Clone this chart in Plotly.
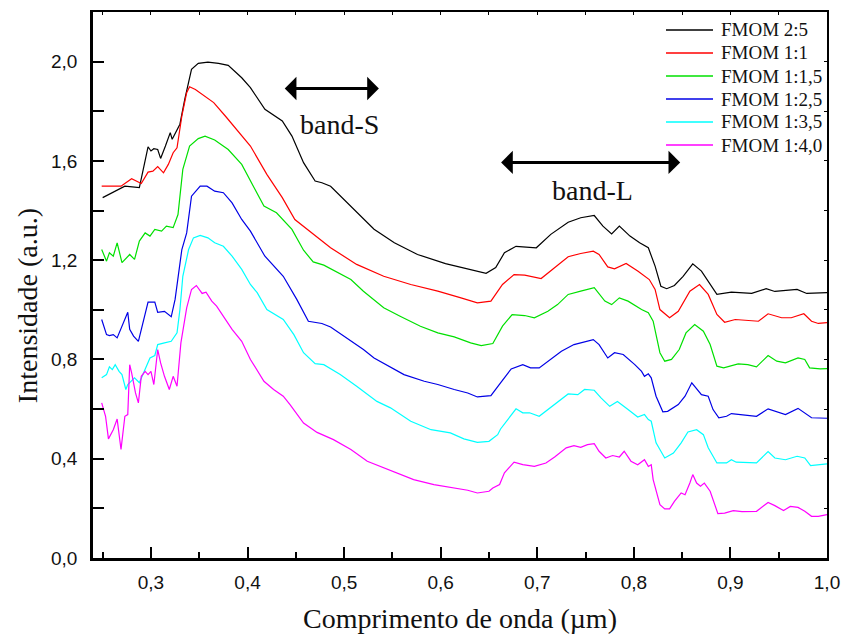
import plotly.graph_objects as go

# Reflectance spectra of FMOM samples (wavelength in micrometres, intensity in a.u.)
wl_2_5 = [0.250, 0.273, 0.288, 0.297, 0.300, 0.303, 0.307, 0.310, 0.315, 0.320,
          0.322, 0.327, 0.330, 0.335, 0.342, 0.349, 0.359, 0.370, 0.380, 0.394,
          0.403, 0.418, 0.436, 0.446, 0.458, 0.470, 0.477, 0.486, 0.507, 0.531,
          0.552, 0.576, 0.605, 0.628, 0.647, 0.657, 0.666, 0.678, 0.690, 0.699,
          0.714, 0.732, 0.745, 0.759, 0.768, 0.777, 0.785, 0.796, 0.806, 0.815,
          0.822, 0.828, 0.834, 0.842, 0.851, 0.861, 0.870, 0.879, 0.886, 0.901,
          0.922, 0.937, 0.946, 0.969, 0.979, 1.000]
int_2_5 = [1.452, 1.498, 1.492, 1.657, 1.640, 1.649, 1.646, 1.610, 1.660, 1.714,
           1.687, 1.728, 1.748, 1.848, 1.969, 1.993, 1.998, 1.993, 1.985, 1.935,
           1.895, 1.808, 1.761, 1.700, 1.593, 1.519, 1.512, 1.498, 1.418, 1.325,
           1.270, 1.223, 1.186, 1.165, 1.147, 1.170, 1.230, 1.256, 1.254, 1.250,
           1.304, 1.353, 1.371, 1.380, 1.337, 1.306, 1.337, 1.297, 1.270, 1.250,
           1.176, 1.095, 1.085, 1.098, 1.135, 1.185, 1.156, 1.102, 1.062, 1.071,
           1.066, 1.085, 1.074, 1.082, 1.066, 1.069]

wl_1_1 = [0.249, 0.269, 0.280, 0.290, 0.297, 0.302, 0.307, 0.313, 0.318, 0.323,
          0.327, 0.332, 0.337, 0.340, 0.346, 0.353, 0.365, 0.377, 0.394, 0.403,
          0.420, 0.436, 0.449, 0.467, 0.486, 0.513, 0.541, 0.569, 0.597, 0.621,
          0.638, 0.652, 0.664, 0.676, 0.687, 0.704, 0.716, 0.732, 0.745, 0.758,
          0.764, 0.773, 0.780, 0.792, 0.804, 0.816, 0.822, 0.827, 0.837, 0.846,
          0.858, 0.868, 0.877, 0.886, 0.894, 0.905, 0.929, 0.939, 0.953, 0.963,
          0.976, 0.984, 0.991, 1.000]
int_1_1 = [1.498, 1.498, 1.528, 1.509, 1.555, 1.559, 1.577, 1.552, 1.586, 1.633,
           1.653, 1.781, 1.875, 1.899, 1.888, 1.868, 1.835, 1.781, 1.700, 1.660,
           1.546, 1.452, 1.364, 1.310, 1.250, 1.183, 1.135, 1.102, 1.075, 1.048,
           1.028, 1.035, 1.102, 1.142, 1.140, 1.126, 1.163, 1.214, 1.227, 1.236,
           1.223, 1.173, 1.165, 1.187, 1.156, 1.122, 1.082, 1.001, 0.968, 0.994,
           1.075, 1.102, 1.062, 0.981, 0.950, 0.961, 0.954, 0.984, 0.968, 0.968,
           0.984, 0.954, 0.945, 0.948]

wl_1_15 = [0.249, 0.254, 0.257, 0.261, 0.265, 0.270, 0.278, 0.283, 0.288, 0.294,
           0.299, 0.304, 0.311, 0.316, 0.323, 0.328, 0.333, 0.340, 0.349, 0.356,
           0.366, 0.380, 0.394, 0.403, 0.417, 0.430, 0.446, 0.458, 0.468, 0.479,
           0.493, 0.507, 0.520, 0.541, 0.558, 0.579, 0.597, 0.614, 0.631, 0.642,
           0.654, 0.664, 0.674, 0.687, 0.697, 0.711, 0.721, 0.732, 0.745, 0.759,
           0.770, 0.777, 0.785, 0.794, 0.808, 0.815, 0.820, 0.827, 0.832, 0.839,
           0.847, 0.854, 0.863, 0.872, 0.879, 0.886, 0.893, 0.908, 0.918, 0.927,
           0.939, 0.948, 0.957, 0.970, 0.977, 0.982, 0.993, 1.000]
int_1_15 = [1.243, 1.196, 1.230, 1.216, 1.270, 1.190, 1.223, 1.203, 1.277, 1.310,
            1.297, 1.324, 1.317, 1.337, 1.331, 1.384, 1.566, 1.660, 1.690, 1.700,
            1.684, 1.646, 1.586, 1.519, 1.418, 1.391, 1.324, 1.240, 1.193, 1.180,
            1.150, 1.122, 1.075, 1.008, 0.974, 0.934, 0.907, 0.891, 0.867, 0.856,
            0.864, 0.934, 0.981, 0.977, 0.968, 0.994, 1.021, 1.062, 1.075, 1.089,
            1.035, 1.021, 1.048, 1.035, 1.001, 0.988, 0.954, 0.827, 0.793, 0.800,
            0.840, 0.907, 0.941, 0.914, 0.860, 0.773, 0.766, 0.782, 0.779, 0.770,
            0.816, 0.793, 0.786, 0.806, 0.800, 0.766, 0.762, 0.763]

wl_1_25 = [0.249, 0.254, 0.257, 0.261, 0.265, 0.271, 0.276, 0.278, 0.282, 0.287,
           0.292, 0.297, 0.304, 0.307, 0.314, 0.321, 0.325, 0.328, 0.332, 0.337,
           0.342, 0.351, 0.358, 0.366, 0.375, 0.384, 0.394, 0.403, 0.418, 0.437,
           0.451, 0.463, 0.477, 0.486, 0.500, 0.520, 0.531, 0.548, 0.562, 0.583,
           0.597, 0.614, 0.628, 0.638, 0.652, 0.662, 0.673, 0.685, 0.693, 0.702,
           0.711, 0.725, 0.738, 0.749, 0.758, 0.764, 0.773, 0.780, 0.789, 0.801,
           0.808, 0.811, 0.815, 0.818, 0.823, 0.830, 0.835, 0.846, 0.853, 0.860,
           0.867, 0.870, 0.877, 0.882, 0.888, 0.896, 0.901, 0.912, 0.927, 0.939,
           0.950, 0.957, 0.970, 0.977, 0.984, 1.000]
int_1_25 = [0.961, 0.900, 0.896, 0.900, 0.887, 0.941, 0.990, 0.921, 0.894, 0.873,
            0.954, 1.031, 1.031, 0.990, 0.994, 0.972, 1.042, 1.122, 1.243, 1.310,
            1.458, 1.498, 1.498, 1.478, 1.472, 1.431, 1.364, 1.317, 1.216, 1.135,
            1.042, 0.954, 0.945, 0.931, 0.894, 0.840, 0.806, 0.770, 0.739, 0.712,
            0.699, 0.679, 0.665, 0.649, 0.654, 0.706, 0.762, 0.779, 0.766, 0.766,
            0.793, 0.833, 0.860, 0.871, 0.880, 0.860, 0.806, 0.827, 0.820, 0.779,
            0.752, 0.732, 0.742, 0.726, 0.652, 0.589, 0.591, 0.618, 0.652, 0.706,
            0.672, 0.658, 0.652, 0.598, 0.565, 0.571, 0.582, 0.578, 0.571, 0.601,
            0.585, 0.578, 0.603, 0.585, 0.565, 0.563]

wl_1_35 = [0.249, 0.254, 0.257, 0.260, 0.263, 0.267, 0.270, 0.274, 0.276, 0.283,
           0.288, 0.294, 0.299, 0.304, 0.307, 0.314, 0.321, 0.327, 0.330, 0.333,
           0.339, 0.344, 0.351, 0.359, 0.366, 0.375, 0.384, 0.394, 0.403, 0.410,
           0.420, 0.437, 0.448, 0.458, 0.470, 0.479, 0.496, 0.513, 0.534, 0.548,
           0.569, 0.590, 0.610, 0.624, 0.638, 0.650, 0.659, 0.662, 0.671, 0.678,
           0.685, 0.692, 0.702, 0.711, 0.721, 0.732, 0.742, 0.749, 0.759, 0.766,
           0.775, 0.783, 0.794, 0.804, 0.811, 0.815, 0.818, 0.823, 0.832, 0.841,
           0.849, 0.856, 0.865, 0.872, 0.877, 0.886, 0.896, 0.901, 0.906, 0.927,
           0.939, 0.946, 0.957, 0.969, 0.977, 0.983, 1.000]
int_1_35 = [0.726, 0.739, 0.770, 0.759, 0.779, 0.752, 0.739, 0.679, 0.699, 0.726,
            0.706, 0.762, 0.806, 0.816, 0.860, 0.867, 0.873, 0.907, 1.001, 1.135,
            1.243, 1.290, 1.300, 1.290, 1.270, 1.256, 1.216, 1.163, 1.102, 1.069,
            1.001, 0.961, 0.900, 0.827, 0.783, 0.779, 0.739, 0.692, 0.631, 0.605,
            0.551, 0.517, 0.504, 0.480, 0.466, 0.470, 0.497, 0.520, 0.565, 0.601,
            0.585, 0.585, 0.571, 0.598, 0.625, 0.661, 0.658, 0.679, 0.676, 0.645,
            0.611, 0.631, 0.598, 0.568, 0.578, 0.558, 0.551, 0.464, 0.403, 0.423,
            0.464, 0.508, 0.517, 0.497, 0.444, 0.383, 0.383, 0.396, 0.386, 0.383,
            0.429, 0.403, 0.396, 0.410, 0.403, 0.372, 0.379]

wl_1_40 = [0.249, 0.253, 0.256, 0.261, 0.265, 0.269, 0.273, 0.276, 0.278, 0.280,
           0.284, 0.287, 0.290, 0.294, 0.297, 0.300, 0.303, 0.307, 0.310, 0.314,
           0.319, 0.323, 0.327, 0.331, 0.337, 0.342, 0.347, 0.353, 0.357, 0.363,
           0.368, 0.377, 0.384, 0.394, 0.403, 0.417, 0.427, 0.437, 0.444, 0.458,
           0.472, 0.489, 0.507, 0.524, 0.541, 0.555, 0.572, 0.593, 0.610, 0.628,
           0.638, 0.650, 0.654, 0.661, 0.666, 0.676, 0.685, 0.697, 0.709, 0.718,
           0.730, 0.738, 0.745, 0.752, 0.759, 0.764, 0.771, 0.778, 0.785, 0.790,
           0.797, 0.804, 0.811, 0.815, 0.818, 0.820, 0.827, 0.832, 0.837, 0.842,
           0.849, 0.853, 0.858, 0.861, 0.865, 0.869, 0.873, 0.879, 0.887, 0.894,
           0.903, 0.912, 0.927, 0.939, 0.946, 0.955, 0.962, 0.970, 0.977, 0.984,
           0.991, 1.000]
int_1_40 = [0.625, 0.571, 0.480, 0.517, 0.560, 0.437, 0.571, 0.578, 0.779, 0.746,
            0.665, 0.625, 0.732, 0.752, 0.739, 0.752, 0.699, 0.840, 0.786, 0.732,
            0.679, 0.732, 0.692, 0.867, 1.008, 1.082, 1.098, 1.066, 1.071, 1.035,
            1.015, 0.961, 0.921, 0.873, 0.800, 0.712, 0.679, 0.652, 0.618, 0.544,
            0.506, 0.477, 0.437, 0.390, 0.363, 0.343, 0.316, 0.296, 0.286, 0.273,
            0.262, 0.269, 0.282, 0.296, 0.343, 0.386, 0.376, 0.369, 0.383, 0.407,
            0.444, 0.453, 0.446, 0.457, 0.461, 0.430, 0.403, 0.413, 0.407, 0.430,
            0.390, 0.376, 0.396, 0.369, 0.376, 0.316, 0.215, 0.198, 0.198, 0.228,
            0.262, 0.255, 0.302, 0.336, 0.302, 0.289, 0.302, 0.269, 0.179, 0.181,
            0.191, 0.187, 0.188, 0.224, 0.211, 0.191, 0.208, 0.204, 0.188, 0.168,
            0.168, 0.175]

series_names = ["FMOM 2:5", "FMOM 1:1", "FMOM 1:1,5", "FMOM 1:2,5", "FMOM 1:3,5", "FMOM 1:4,0"]
series_x = [wl_2_5, wl_1_1, wl_1_15, wl_1_25, wl_1_35, wl_1_40]
series_y = [int_2_5, int_1_1, int_1_15, int_1_25, int_1_35, int_1_40]
series_colors = ["#000000", "#ff0000", "#00e000", "#0000e6", "#00ffff", "#ff00ff"]

x_ticks = [0.3, 0.4, 0.5, 0.6, 0.7, 0.8, 0.9, 1.0]
y_ticks = [0.0, 0.4, 0.8, 1.2, 1.6, 2.0]

SERIF = "Liberation Serif, Times New Roman, serif"
SANS = "Liberation Sans, Arial, sans-serif"

fig = go.Figure()
for name, xs, ys, col in zip(series_names, series_x, series_y, series_colors):
    assert len(xs) == len(ys), name
    fig.add_trace(go.Scatter(x=xs, y=ys, mode="lines", name=name, showlegend=False,
                             line=dict(color=col, width=1.2)))

# invisible trace that carries the secondary (top/right) frame axes
fig.add_trace(go.Scatter(x=[0.5], y=[1.0], xaxis="x2", yaxis="y2", mode="markers",
                         marker=dict(opacity=0), showlegend=False, hoverinfo="skip"))

x_range = [0.24, 1.0]
y_range = [0.0, 2.2]

fig.update_layout(
    width=845, height=635,
    margin=dict(l=93, r=18, t=12, b=77),
    paper_bgcolor="white", plot_bgcolor="white",
    separators=",.",
    xaxis=dict(range=x_range, tickmode="array", tickvals=x_ticks, tickformat=".1f",
               ticks="inside", ticklen=11, tickwidth=2, tickcolor="black",
               minor=dict(tickmode="linear", tick0=0.25, dtick=0.05, ticks="inside",
                          ticklen=6, tickwidth=2, tickcolor="black"),
               showline=True, linewidth=2.5, linecolor="black", showgrid=False, zeroline=False,
               tickfont=dict(family=SANS, size=19, color="#111"), ticklabelstandoff=5,
               automargin=False),
    yaxis=dict(range=y_range, tickmode="array", tickvals=y_ticks, tickformat=".1f",
               ticks="inside", ticklen=11, tickwidth=2, tickcolor="black",
               minor=dict(tickmode="linear", tick0=0, dtick=0.2, ticks="inside",
                          ticklen=11, tickwidth=2, tickcolor="black"),
               showline=True, linewidth=2.5, linecolor="black", showgrid=False, zeroline=False,
               tickfont=dict(family=SANS, size=19, color="#111"), ticklabelstandoff=9,
               automargin=False),
    xaxis2=dict(range=x_range, overlaying="x", side="top", anchor="y",
                tickmode="linear", tick0=0.25, dtick=0.05, ticks="inside", ticklen=3,
                tickwidth=1, tickcolor="black", showticklabels=False, automargin=False,
                showline=True, linewidth=1.5, linecolor="black", showgrid=False, zeroline=False),
    yaxis2=dict(range=y_range, overlaying="y", side="right", anchor="x",
                tickmode="linear", tick0=0, dtick=0.2, ticks="inside", ticklen=3,
                tickwidth=1, tickcolor="black", showticklabels=False, automargin=False,
                showline=True, linewidth=1.5, linecolor="black", showgrid=False, zeroline=False),
)

plot_w, plot_h = 734.0, 546.0

# axis titles
fig.add_annotation(x=0.5, y=-60 / plot_h, xref="paper", yref="paper",
                   text="Comprimento de onda (\u00b5m)", showarrow=False,
                   xanchor="center", yanchor="middle",
                   font=dict(family=SERIF, size=28, color="#111"))
fig.add_annotation(x=-0.09, y=0.463, xref="paper", yref="paper", text="Intensidade (a.u.)",
                   textangle=-90, showarrow=False, xanchor="center", yanchor="middle",
                   font=dict(family=SERIF, size=28, color="#111"))

# legend key in the upper-right corner: a short coloured line and the sample name per row
key_x0, key_x1, text_x = (666 - 93) / plot_w, (713 - 93) / plot_w, (719 - 93) / plot_w
for i, (name, col) in enumerate(zip(series_names, series_colors)):
    row_y = (546 - (30 - 12) - 23 * i) / plot_h
    fig.add_shape(type="line", xref="paper", yref="paper", x0=key_x0, x1=key_x1,
                  y0=row_y, y1=row_y, line=dict(color=col, width=1.5))
    fig.add_annotation(x=text_x, y=row_y, xref="paper", yref="paper", text=name,
                       showarrow=False, xanchor="left", yanchor="middle",
                       font=dict(family=SERIF, size=19, color="#111"))

# band markers: double-headed arrows with labels
bands = [
    dict(label="band-S", x0=0.437, x1=0.536, y_arrow=1.892, x_text=0.495, y_text=1.747),
    dict(label="band-L", x0=0.661, x1=0.848, y_arrow=1.594, x_text=0.757, y_text=1.482),
]
for b in bands:
    fig.add_annotation(x=b["x1"], y=b["y_arrow"], ax=b["x0"], ay=b["y_arrow"],
                       xref="x", yref="y", axref="x", ayref="y", text="",
                       showarrow=True, arrowhead=1, arrowside="end+start",
                       arrowsize=1.3, arrowwidth=3, arrowcolor="black")
    fig.add_annotation(x=b["x_text"], y=b["y_text"], xref="x", yref="y",
                       text=b["label"], showarrow=False,
                       font=dict(family=SERIF, size=28, color="#111"))

fig.write_html("out.html")
